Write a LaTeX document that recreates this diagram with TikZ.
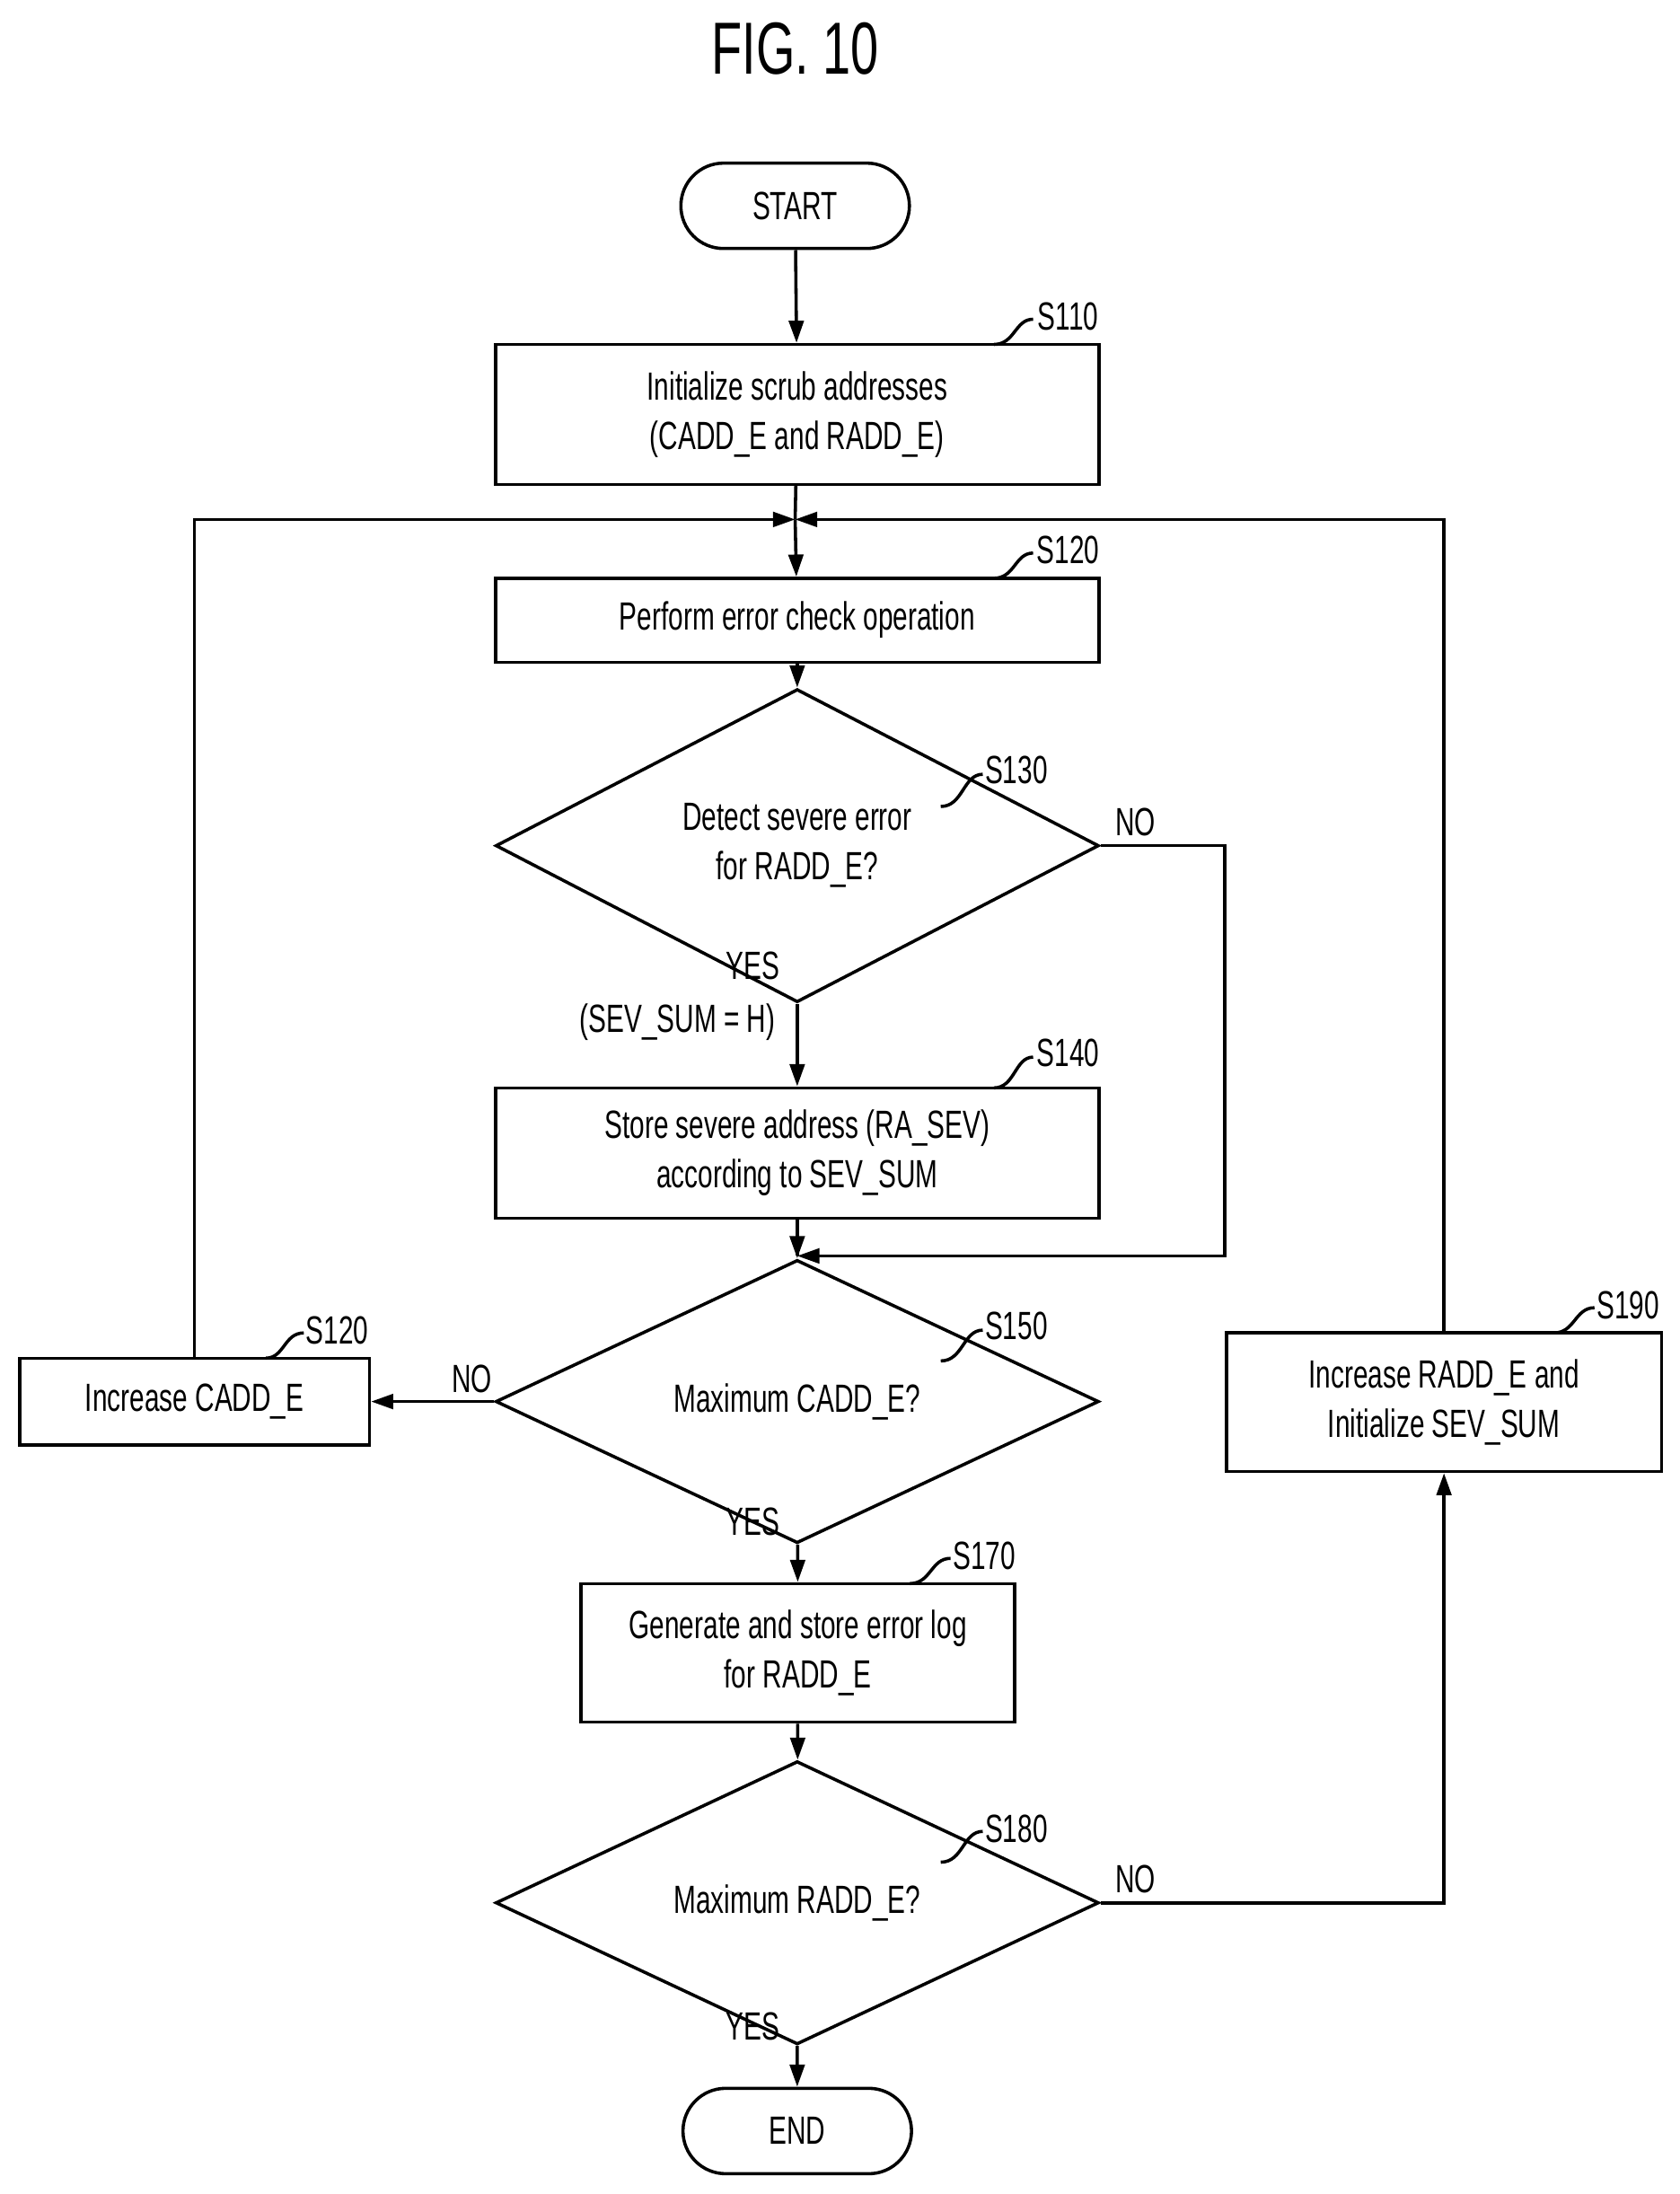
\documentclass[tikz,border=0pt]{standalone}
\usepackage{fontspec}
\setmainfont[FakeStretch=0.68]{Liberation Sans}
\usetikzlibrary{arrows.meta,positioning,shapes.geometric,shapes.misc}

\begin{document}
\begin{tikzpicture}[
    x=0.02cm, y=-0.02cm,
    >={Triangle[length=9pt,width=6pt]},
    every node/.style={font=\fontsize{16}{20}\selectfont},
    line/.style={line width=1.3pt},
    proc/.style={draw, line width=1.3pt, rectangle, align=center, inner sep=0pt},
    term/.style={draw, line width=1.3pt, rounded rectangle, minimum width=3.5cm, minimum height=1.22cm},
    test/.style={draw, line width=1.3pt, diamond, align=center, inner sep=0pt, minimum width=8.62cm, minimum height=2.44cm},
    tag/.style={font=\fontsize{16}{20}\selectfont}
]
    \useasboundingbox (0,0) rectangle (1200,1567);
    \node[font=\fontsize{30}{34}\selectfont] (title) at (568,35) {FIG. 10};

    % === MAIN COLUMN ===
    \node[term] (start) at (568,147) {START};
    \node[proc, minimum width=8.62cm, minimum height=2cm] (s110) at (569.5,296) {Initialize scrub addresses\\(CADD\_E and RADD\_E)};
    \coordinate (merge) at (568,371);
    \node[proc, minimum width=8.62cm, minimum height=1.2cm] (s120) at (569.5,443) {Perform error check operation};
    \node[test] (s130) at (569.5,604) {Detect severe error\\for RADD\_E?};
    \node[proc, minimum width=8.62cm, minimum height=1.86cm] (s140) at (569.5,823.5) {Store severe address (RA\_SEV)\\according to SEV\_SUM};
    \coordinate (join) at (569.5,897);
    \node[test] (s150) at (569.5,1001) {Maximum CADD\_E?};
    \node[proc, minimum width=6.2cm, minimum height=1.98cm] (s170) at (570,1180.5) {Generate and store error log\\for RADD\_E};
    \node[test] (s180) at (569.5,1359) {Maximum RADD\_E?};
    \node[term] (end) at (569.5,1522) {END};

    % === SIDE BOXES ===
    \node[proc, minimum width=5cm, minimum height=1.24cm] (cadd) at (139,1001) {Increase CADD\_E};
    \node[proc, minimum width=6.22cm, minimum height=1.98cm] (s190) at (1031.5,1001.5) {Increase RADD\_E and\\Initialize SEV\_SUM};

    % === STEP TAGS ===
    \node[tag] (t110) at (763,226) {S110};
    \draw[line] (710,246) .. controls (725,246) and (725,228) .. (738,228);
    \node[tag] (t120) at (763,393) {S120};
    \draw[line] (710,413) .. controls (725,413) and (725,395) .. (738,395);
    \node[tag] (t130) at (726,550) {S130};
    \draw[line] (672,576) .. controls (688,576) and (688,553) .. (702,553);
    \node[tag] (t140) at (763,752) {S140};
    \draw[line] (710,777) .. controls (725,777) and (725,755) .. (738,755);
    \node[tag] (t150) at (726,947) {S150};
    \draw[line] (672,972) .. controls (688,972) and (688,950) .. (702,950);
    \node[tag] (t120b) at (241,950) {S120};
    \draw[line] (190,970) .. controls (203,970) and (203,952) .. (217,952);
    \node[tag] (t170) at (703,1111) {S170};
    \draw[line] (650,1131) .. controls (665,1131) and (665,1113) .. (679,1113);
    \node[tag] (t180) at (726,1306) {S180};
    \draw[line] (672,1330) .. controls (688,1330) and (688,1308) .. (702,1308);
    \node[tag] (t190) at (1163,932) {S190};
    \draw[line] (1110,952) .. controls (1125,952) and (1125,934) .. (1139,934);

    % === BRANCH LABELS ===
    \node (no130) at (811,587) {NO};
    \node (yes130) at (538,690) {YES};
    \node (sev) at (484,730) {(SEV\_SUM = H)};
    \node (no150) at (337,985) {NO};
    \node (yes150) at (538,1087) {YES};
    \node (no180) at (811,1342) {NO};
    \node (yes180) at (538,1447) {YES};

    % === CONNECTORS ===
    \draw[line,->] (start) -- (s110);
    \draw[line] (s110) -- (merge);
    \draw[line,->] (merge) -- (s120);
    \draw[line,->] (s120) -- (s130);
    \draw[line,->] (s130) -- (s140);
    \draw[line] (s140) -- (join);
    \draw[line,->] (join) -- (s150);
    \draw[line,->] (s130.east) -- (875,604) |- (join);
    \draw[line,->] (s150.west) -- (cadd.east);
    \draw[line,->] (cadd.north) |- (merge);
    \draw[line,->] (s150) -- (s170);
    \draw[line,->] (s170) -- (s180);
    \draw[line,->] (s180) -- (end);
    \draw[line,->] (s180.east) -| (s190.south);
    \draw[line,->] (s190.north) |- (merge);
\end{tikzpicture}
\end{document}
